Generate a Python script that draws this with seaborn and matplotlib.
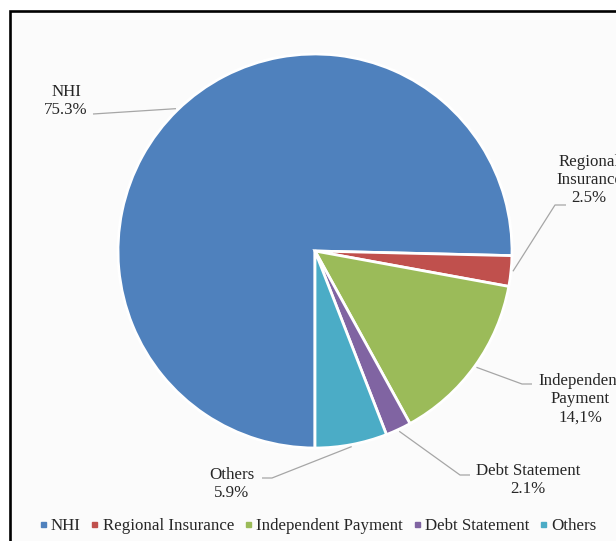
import numpy as np
import matplotlib
matplotlib.use("Agg")
import matplotlib.pyplot as plt
from matplotlib.patches import Rectangle
from matplotlib.lines import Line2D
import seaborn as sns

# Funding sources and their shares (%)
categories = ["NHI", "Regional Insurance", "Independent Payment", "Debt Statement", "Others"]
shares = [75.3, 2.5, 14.1, 2.1, 5.9]
label_texts = ["NHI\n75.3%", "Regional\nInsurance\n2.5%", "Independent\nPayment\n14,1%",
               "Debt Statement\n2.1%", "Others\n5.9%"]
colors = ["#4F81BD", "#C0504D", "#9BBB59", "#8064A2", "#4BACC6"]

sns.set_theme(style="white")
plt.rcParams["font.family"] = ["Liberation Serif", "DejaVu Serif"]

W, H = 616, 541
fig = plt.figure(figsize=(W / 100, H / 100), dpi=100)
fig.patch.set_facecolor("white")
ax = fig.add_axes([0, 0, 1, 1])

# chart frame (extends past the right and bottom edges)
ax.add_patch(Rectangle((9.5, -20), 700, 541 - 11 + 20, facecolor="#fbfbfb",
                       edgecolor="black", linewidth=1.9, zorder=0))

cx, cy, R = 315, 541 - 251, 197
explode = [0, 0.016, 0.016, 0.016, 0.016]
wedges, _ = ax.pie(shares, colors=colors, startangle=-90, counterclock=False,
                   center=(cx, cy), radius=R, explode=explode,
                   wedgeprops=dict(edgecolor="white", linewidth=2.0))

# label layout: (text centre, leader elbow, leader end) in pixel coords (y down)
layout = [
    ((66, 101), None, (93, 114)),
    ((589, 180), (555, 205), (566, 205)),
    ((580, 399), (522, 384), (532, 384)),
    ((528, 480), (460, 475), (470, 475)),
    ((232, 484), (272, 478), (262, 478)),
]
text_color = "#262626"
for w, txt, (tc, elbow, end) in zip(wedges, label_texts, layout):
    mid = np.deg2rad((w.theta1 + w.theta2) / 2)
    wx, wy = w.center
    sx = wx + R * 1.01 * np.cos(mid)
    sy = wy + R * 1.01 * np.sin(mid)
    xs, ys = [sx], [sy]
    if elbow is not None:
        xs.append(elbow[0]); ys.append(H - elbow[1])
    xs.append(end[0]); ys.append(H - end[1])
    ax.plot(xs, ys, color="#a6a6a6", linewidth=0.9, solid_capstyle="butt", zorder=3)
    ax.text(tc[0], H - tc[1], txt, ha="center", va="center", fontsize=12.2,
            color=text_color, linespacing=1.2, zorder=4)

handles = [Line2D([0], [0], marker="s", linestyle="none", markersize=3.6,
                  markerfacecolor=c, markeredgecolor=c) for c in colors]
leg = ax.legend(handles, categories, loc="center", bbox_to_anchor=(318 / W, 1 - 526 / H),
                bbox_transform=fig.transFigure, ncol=5, frameon=False, fontsize=12.2,
                handlelength=0.35, handletextpad=0.3, columnspacing=0.65,
                borderpad=0, borderaxespad=0)
for t in leg.get_texts():
    t.set_color(text_color)

ax.set_xlim(0, W)
ax.set_ylim(0, H)
ax.set_aspect("auto")
ax.axis("off")

fig.savefig("out.png", dpi=100, facecolor="white")
